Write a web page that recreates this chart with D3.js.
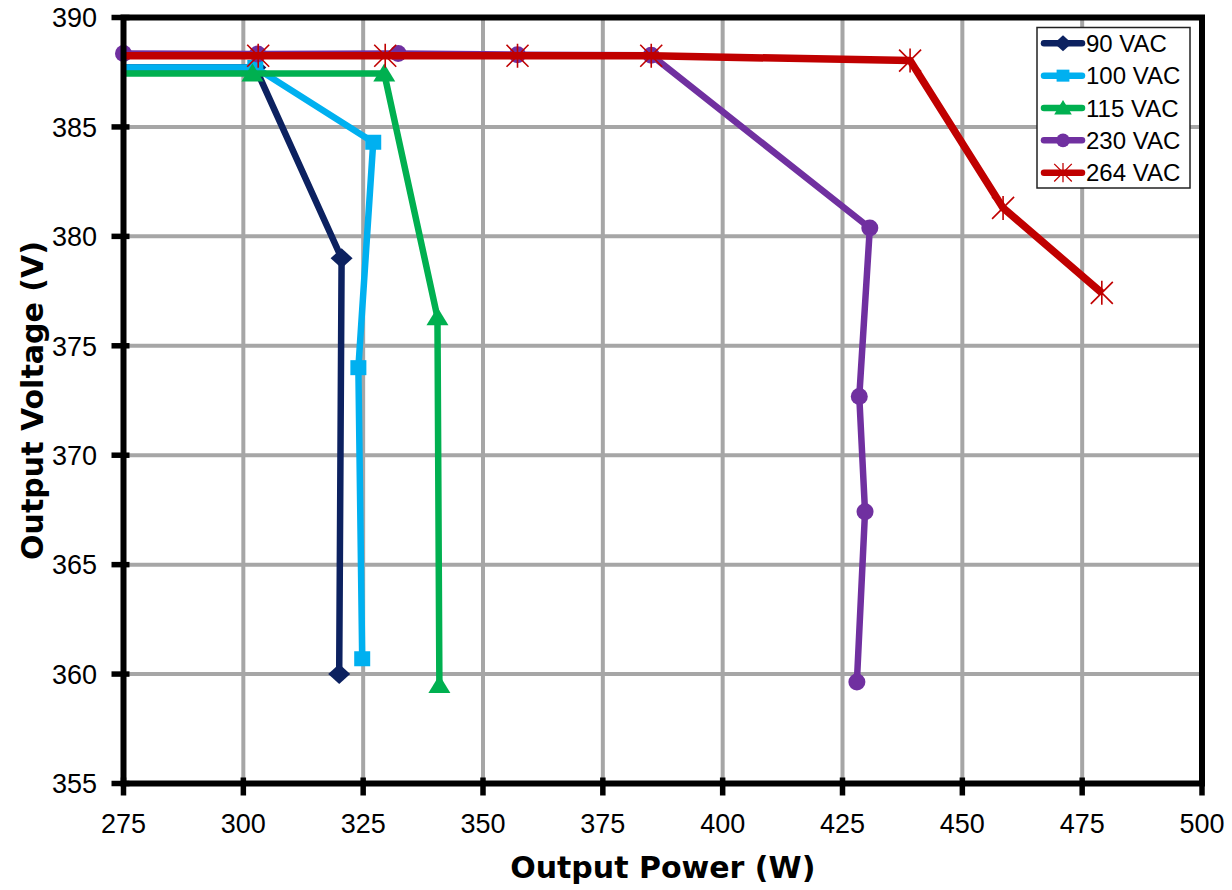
<!DOCTYPE html>
<html>
<head>
<meta charset="utf-8">
<script src="https://cdn.jsdelivr.net/npm/d3@7"></script>
<style>
  html, body { margin: 0; padding: 0; background: #fff; }
  svg { display: block; }
</style>
</head>
<body>
<svg id="chart" width="1232" height="890"></svg>
<script>
// ---- Data ----
const seriesNames = ["90 VAC", "100 VAC", "115 VAC", "230 VAC", "264 VAC"];
const seriesColors = ["#0c2160", "#00b0f0", "#00b050", "#7030a0", "#c00000"];
const seriesMarkers = ["diamond", "square", "triangle", "circle", "star"];

const power90  = [270, 302.5, 320.5, 320.0];
const volt90   = [387.72, 387.72, 379.0, 360.0];
const power100 = [270, 302.5, 327.1, 324.0, 324.8];
const volt100  = [387.72, 387.72, 384.3, 374.0, 360.7];
const power115 = [270, 301.9, 329.4, 340.5, 340.9];
const volt115  = [387.44, 387.44, 387.44, 376.3, 359.5];
const power230 = [275, 303.0, 332.3, 357.2, 385.1, 430.7, 428.5, 429.7, 428.0];
const volt230  = [388.36, 388.33, 388.36, 388.3, 388.28, 380.38, 372.68, 367.42, 359.64];
const power264 = [270, 303.1, 329.6, 357.2, 385.1, 439.1, 458.5, 479.1];
const volt264  = [388.25, 388.25, 388.25, 388.25, 388.25, 388.03, 381.3, 377.42];

const xTicks = [275, 300, 325, 350, 375, 400, 425, 450, 475, 500];
const yTicks = [355, 360, 365, 370, 375, 380, 385, 390];
const xTitle = "Output Power (W)";
const yTitle = "Output Voltage (V)";

const allPower = [power90, power100, power115, power230, power264];
const allVolt = [volt90, volt100, volt115, volt230, volt264];
const series = seriesNames.map((name, i) => ({
  name, color: seriesColors[i], marker: seriesMarkers[i],
  points: allPower[i].map((p, j) => ({x: p, y: allVolt[i][j]}))
}));

// ---- Layout ----
const W = 1232, H = 890;
const margin = {left: 123.5, top: 17.5, right: 30, bottom: 106.5};
const svg = d3.select("#chart");
const x = d3.scaleLinear().domain([275, 500]).range([margin.left, W - margin.right]);
const y = d3.scaleLinear().domain([355, 390]).range([H - margin.bottom, margin.top]);

const tickFont = "'Liberation Sans', Arial, sans-serif";

// Gridlines
const grid = svg.append("g");
grid.selectAll("line.v").data(xTicks.slice(1, -1)).join("line")
  .attr("x1", d => x(d)).attr("x2", d => x(d))
  .attr("y1", y(390)).attr("y2", y(355))
  .attr("stroke", "#a6a6a6").attr("stroke-width", 4);
grid.selectAll("line.h").data(yTicks.slice(1, -1)).join("line")
  .attr("x1", x(275)).attr("x2", x(500))
  .attr("y1", d => y(d)).attr("y2", d => y(d))
  .attr("stroke", "#a6a6a6").attr("stroke-width", 4);

// Clip
svg.append("defs").append("clipPath").attr("id", "plotclip")
  .append("rect").attr("x", x(275)).attr("y", 0)
  .attr("width", x(500) - x(275)).attr("height", H);

// Marker generator
function drawMarker(g, type, color) {
  if (type === "diamond") {
    g.append("path").attr("d", "M0,-10 L11,0 L0,10 L-11,0 Z").attr("fill", color);
  } else if (type === "square") {
    g.append("rect").attr("x", -8).attr("y", -7.5).attr("width", 16).attr("height", 15).attr("fill", color);
  } else if (type === "triangle") {
    g.append("path").attr("d", "M0,-10 L11,8 L-11,8 Z").attr("fill", color);
  } else if (type === "circle") {
    g.append("circle").attr("r", 8.5).attr("fill", color);
  } else if (type === "star") {
    g.append("path").attr("d", "M-11,-11 L11,11 M-11,11 L11,-11 M0,-12 L0,12")
      .attr("stroke", color).attr("stroke-width", 1.6).attr("fill", "none");
  }
}

const line = d3.line().x(d => x(d.x)).y(d => y(d.y));

series.forEach(s => {
  const g = svg.append("g");
  g.append("path").datum(s.points)
    .attr("d", line)
    .attr("fill", "none")
    .attr("stroke", s.color)
    .attr("stroke-width", s.marker === "star" ? 7.5 : 6.5)
    .attr("stroke-linejoin", "round")
    .attr("clip-path", "url(#plotclip)");
  s.points.filter(p => p.x >= 275 && p.x <= 500).forEach(p => {
    const mg = g.append("g").attr("transform", `translate(${x(p.x)},${y(p.y)})`);
    drawMarker(mg, s.marker, s.color);
  });
});

// Frame / axes
const frame = svg.append("g");
frame.append("rect")
  .attr("x", x(275)).attr("y", y(390))
  .attr("width", x(500) - x(275)).attr("height", y(355) - y(390))
  .attr("fill", "none").attr("stroke", "#000").attr("stroke-width", 6);

// Y ticks
frame.selectAll("line.yt").data(yTicks).join("line")
  .attr("x1", x(275) - 12).attr("x2", x(275) + 6)
  .attr("y1", d => y(d)).attr("y2", d => y(d))
  .attr("stroke", "#000").attr("stroke-width", 5.5);
// X ticks
frame.selectAll("line.xt").data(xTicks).join("line")
  .attr("x1", d => x(d)).attr("x2", d => x(d))
  .attr("y1", y(355) - 6).attr("y2", y(355) + 12)
  .attr("stroke", "#000").attr("stroke-width", 5.5);

// Tick labels
svg.append("g").selectAll("text").data(yTicks).join("text")
  .attr("x", 97).attr("y", d => y(d))
  .attr("dy", "0.36em")
  .attr("text-anchor", "end")
  .attr("font-family", tickFont).attr("font-size", 27)
  .attr("fill", "#000")
  .text(d => d);
svg.append("g").selectAll("text").data(xTicks).join("text")
  .attr("x", d => x(d)).attr("y", 833)
  .attr("text-anchor", "middle")
  .attr("font-family", tickFont).attr("font-size", 27)
  .attr("fill", "#000")
  .text(d => d);

// Axis titles
svg.append("text")
  .attr("x", (x(275) + x(500)) / 2).attr("y", 878)
  .attr("text-anchor", "middle")
  .attr("font-family", "'DejaVu Sans', Verdana, sans-serif")
  .attr("font-weight", "bold").attr("font-size", 30)
  .text(xTitle);
svg.append("text")
  .attr("transform", `translate(43,${(y(355) + y(390)) / 2}) rotate(-90)`)
  .attr("text-anchor", "middle")
  .attr("font-family", "'DejaVu Sans', Verdana, sans-serif")
  .attr("font-weight", "bold").attr("font-size", 30)
  .text(yTitle);

// Legend
const lg = svg.append("g");
lg.append("rect").attr("x", 1037).attr("y", 27.5).attr("width", 153).attr("height", 160.5)
  .attr("fill", "#fff").attr("stroke", "#222").attr("stroke-width", 1.5);
series.forEach((s, i) => {
  const cy = 43.3 + i * 32.35;
  const row = lg.append("g");
  row.append("line").attr("x1", 1044).attr("x2", 1082).attr("y1", cy).attr("y2", cy)
    .attr("stroke", s.color).attr("stroke-width", 6.5).attr("stroke-linecap", "round");
  const mg = row.append("g").attr("transform", `translate(1063,${cy}) scale(0.8)`);
  drawMarker(mg, s.marker, s.color);
  row.append("text").attr("x", 1086).attr("y", cy).attr("dy", "0.36em")
    .attr("font-family", tickFont).attr("font-size", 24).attr("fill", "#000")
    .text(s.name);
});
</script>
</body>
</html>
